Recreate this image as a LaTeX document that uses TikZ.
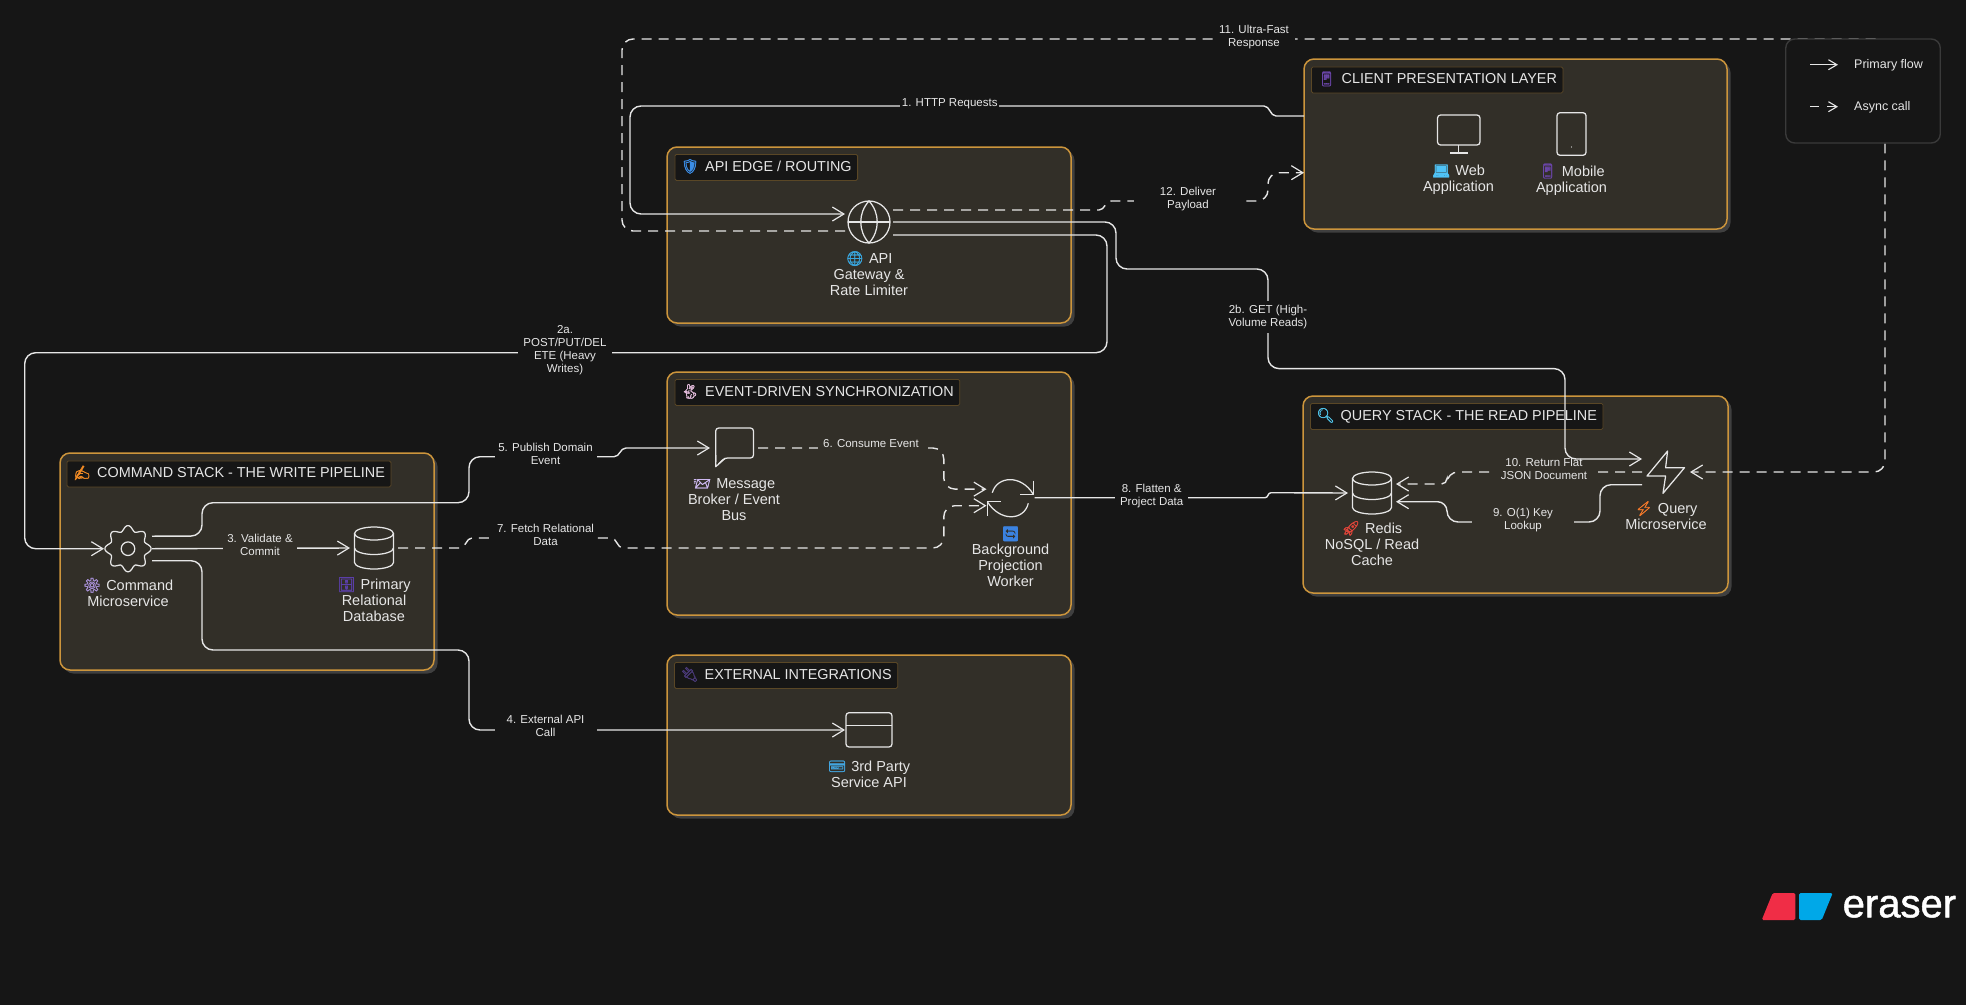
\documentclass[tikz,border=0pt]{standalone}
\usepackage{fontspec}
\setmainfont{Liberation Sans}
\newfontfamily\emojifont[FakeBold=1.5]{Noto Emoji}
\newfontfamily\logofont[FakeBold=1.2]{Liberation Sans}
\usetikzlibrary{positioning,shadows,arrows.meta,shapes.geometric}

\definecolor{bgc}{HTML}{161616}
\definecolor{panelc}{HTML}{322F28}
\definecolor{edgec}{HTML}{CC953C}
\definecolor{titlec}{HTML}{5A4726}
\definecolor{shadowc}{HTML}{3F3F3F}
\definecolor{linec}{HTML}{E6E6E6}
\definecolor{legendc}{HTML}{3A3A3A}

\newcommand{\emo}[2]{{\emojifont\color[HTML]{#1}#2}}

\tikzstyle{panel} = [rectangle,rounded corners=10pt,draw=edgec,line width=1.5pt,fill=panelc,outer sep=0pt,drop shadow={shadow xshift=3.5pt,shadow yshift=-3.5pt,fill=shadowc,opacity=1}]
\tikzstyle{heading} = [rectangle,rounded corners=1.5pt,draw=titlec,line width=0.8pt,fill=bgc,anchor=north west,minimum height=26pt,inner xsep=6pt,inner ysep=0pt,text height=11pt,text depth=3.2pt,text=linec,font=\fontsize{14.4}{16}\selectfont]
\tikzstyle{iconbox} = [rectangle,minimum size=48pt,inner sep=0pt,outer sep=0pt]
\tikzstyle{glyph} = [line width=1.25pt,draw=linec,line join=round]
\tikzstyle{iconlabel} = [align=center,inner sep=0pt,text=linec,font=\fontsize{14.5}{16}\selectfont]
\tikzstyle{edgelabel} = [align=center,inner xsep=0pt,inner ysep=1.5pt,fill=bgc,text=linec,font=\fontsize{11.5}{13}\selectfont]
\tikzstyle{flow} = [line width=1.4pt,draw=linec,rounded corners=11pt,-{Straight Barb[length=11.5pt,width=14pt,line width=1.2pt]}]
\tikzstyle{async} = [flow,dash pattern=on 10pt off 7pt]
\tikzstyle{legendtext} = [anchor=west,inner sep=0pt,text=linec,font=\fontsize{12.5}{14}\selectfont]

\begin{document}
\begin{tikzpicture}[x=1pt,y=-1pt]

\fill [bgc] (0,0) rectangle (1966,1005);
\useasboundingbox (0,0) rectangle (1966,1005);

% panels
\node (api) [panel,minimum width=404pt,minimum height=176pt] at (869,235) {};
\node (client) [panel,minimum width=423pt,minimum height=170pt] at (1515.5,144) {};
\node (cmdp) [panel,minimum width=374pt,minimum height=217pt] at (247,561.5) {};
\node (evt) [panel,minimum width=404pt,minimum height=243pt] at (869,493.5) {};
\node (qrp) [panel,minimum width=425pt,minimum height=197pt] at (1515.5,494.5) {};
\node (ext) [panel,minimum width=404pt,minimum height=160pt] at (869,735) {};

\node (tapi) [heading] at ([xshift=7.5pt,yshift=-7pt]api.north west) {\emo{3B8EE8}{🛡}\hspace{6pt}API EDGE / ROUTING};
\node (tclient) [heading] at ([xshift=7pt,yshift=-7.5pt]client.north west) {\emo{6A45A8}{📱}\hspace{6pt}CLIENT PRESENTATION LAYER};
\node (tcmd) [heading] at ([xshift=6.5pt,yshift=-7.5pt]cmdp.north west) {\emo{F08A24}{✍}\hspace{6pt}COMMAND STACK - THE WRITE PIPELINE};
\node (tevt) [heading] at ([xshift=7.5pt,yshift=-7pt]evt.north west) {\emo{E4BCDC}{🐇}\hspace{6pt}EVENT-DRIVEN SYNCHRONIZATION};
\node (tqr) [heading] at ([xshift=7pt,yshift=-7pt]qrp.north west) {\emo{4FC3E8}{🔍}\hspace{6pt}QUERY STACK - THE READ PIPELINE};
\node (text) [heading] at ([xshift=7pt,yshift=-7pt]ext.north west) {\emo{4A3A78}{🔌}\hspace{6pt}EXTERNAL INTEGRATIONS};

% icons
\node (web) [iconbox] at (1458.5,134) {};
\node (mob) [iconbox] at (1571.5,134) {};
\node (gate) [iconbox] at (869,222) {};
\node (cmd) [iconbox] at (128,548.7) {};
\node (db) [iconbox] at (374,548) {};
\node (bus) [iconbox] at (734,448) {};
\node (work) [iconbox] at (1010.5,497.7) {};
\node (cache) [iconbox] at (1372,493) {};
\node (qry) [iconbox] at (1666,472) {};
\node (card) [iconbox] at (869,730) {};

\draw [glyph,rounded corners=3pt] (1437.5,115) rectangle (1480,145);
\draw [glyph] (1458.7,145) -- (1458.7,153);
\draw [glyph] (1450,153) -- (1467.5,153);
\draw [glyph,rounded corners=3pt] (1557,112.7) rectangle (1586,155.3);
\fill [linec] (1571.5,147) circle (0.6pt);

\draw [glyph] (gate) circle (21pt);
\draw [glyph,shift={(gate)}] (0,-21) .. controls (-11,-9) and (-11,9) .. (0,21) .. controls (11,9) and (11,-9) .. cycle;
\draw [glyph] (gate.center) ++(-21pt,0pt) -- ++(42pt,0pt);

\draw [glyph,shift={(cmd)}] plot [domain=0:357,samples=120] (\x:{20.5+2.6*cos(8*\x)}) -- cycle;
\draw [glyph] (cmd) circle (6.8pt);

\foreach \n in {db,cache} {
  \draw [glyph,shift={(\n)}] (0,-14.5) ellipse [x radius=19.5pt,y radius=6.5pt];
  \draw [glyph,shift={(\n)}] (-19.5,-14.5) -- (-19.5,14.5) arc [start angle=180,end angle=360,x radius=19.5pt,y radius=6.5pt] -- (19.5,-14.5);
  \draw [glyph,shift={(\n)}] (-19.5,0) arc [start angle=180,end angle=360,x radius=19.5pt,y radius=6.5pt];
}

\draw [glyph,rounded corners=3pt] (715.7,466.7) -- (715.7,428) -- (753.5,428) -- (753.5,458) -- (724.5,458) -- cycle;
\fill [panelc] (713.5,462) rectangle (718,468.5);
\draw [glyph] (715.7,455) -- (715.7,466.7) -- (725.5,458);

\draw [glyph] (992.3,492.7) .. controls (997,476) and (1021,474) .. (1033.3,494.3);
\draw [glyph] (1033.3,480.7) -- (1033.3,494.3) -- (1020,494.3);
\draw [glyph] (1028.3,503.3) .. controls (1024,521) and (1000,522) .. (987.3,501.7);
\draw [glyph] (987.3,515.7) -- (987.3,501.7) -- (1001,501.7);

\draw [glyph] (1667.6,451) -- (1647,476) -- (1665.6,476) -- (1663,493.3) -- (1684.5,467.7) -- (1665.6,467.7) -- cycle;

\draw [glyph,rounded corners=3pt] (846,712.7) rectangle (892,747);
\draw [glyph] (846,725.7) -- (892,725.7);

% icon captions
\node (lweb) [iconlabel,below=6.5pt of web] {\emo{4FC3F7}{💻}\hspace{5pt}Web\\Application};
\node (lmob) [iconlabel,below=5.5pt of mob] {\emo{6A45A8}{📱}\hspace{5pt}Mobile\\Application};
\node (lgate) [iconlabel,below=5pt of gate] {\emo{39A7E0}{🌐}\hspace{5pt}API\\Gateway \&\\Rate Limiter};
\node (lcmd) [iconlabel,below=5pt of cmd] {\emo{A78FD6}{⚙}\hspace{5pt}Command\\Microservice};
\node (ldb) [iconlabel,below=5pt of db] {\emo{5B3FA8}{🗄}\hspace{5pt}Primary\\Relational\\Database};
\node (lbus) [iconlabel,below=6.5pt of bus] {\emo{CDB8F0}{📨}\hspace{5pt}Message\\Broker / Event\\Bus};
\node (lwork) [iconlabel,below=4.5pt of work] {\emo{3B82E0}{🔄}\\Background\\Projection\\Worker};
\node (lcache) [iconlabel,below=4pt of cache] {\emo{E0453A}{🚀}\hspace{5pt}Redis\\NoSQL / Read\\Cache};
\node (lqry) [iconlabel,below=5pt of qry] {\emo{F5792A}{⚡}\hspace{5pt}Query\\Microservice};
\node (lcard) [iconlabel,below=6.5pt of card] {\emo{42A5E0}{💳}\hspace{5pt}3rd Party\\Service API};

% connectors
\draw [flow] ([yshift=28pt]client.west) [sharp corners] -- (1276,116) .. controls (1270,116) and (1270,106) .. (1264,106) -- (1250,106) [rounded corners=11pt] -- (630,106) -- (630,214) -- ([yshift=8pt]gate.west);
\draw [flow] ([yshift=-13pt]gate.east) -- (1107,235) -- (1107,352.7) -- (24.7,352.7) -- (24.7,548.7) -- (cmd.west);
\draw [flow] (cmd.east) -- (db.west);
\draw [flow] ([yshift=-12pt]cmd.east) -- (202,560.7) -- (202,650) -- (469,650) -- (469,730) -- (card.west);
\draw [flow] ([yshift=12.5pt]cmd.east) -- (202,536) -- (202,502.7) -- (469,502.7) -- (469,456.7) -- (600,456.7) [sharp corners] -- (614,456.7) .. controls (620,456.7) and (620,448) .. (626,448) -- (bus.west);
\draw [async] (bus.east) -- (943.8,448) -- (943.8,489) -- ([yshift=8.5pt]work.west);
\draw [async] (db.east) [sharp corners] -- (460,548) .. controls (466,548) and (466,538) .. (472,538) -- (611,538) .. controls (617,538) and (617,548) .. (623,548) -- (640,548) [rounded corners=11pt] -- (943.8,548) -- (943.8,505.7) -- ([yshift=-8pt]work.west);
\draw [flow] (work.east) [sharp corners] -- (1265,497.7) .. controls (1268.5,497.7) and (1267.5,492.7) .. (1271,492.7) -- (cache.west);
\draw [flow] ([yshift=-12.7pt]qry.west) -- (1600,484.7) -- (1600,522) -- (1447,522) [rounded corners=9.5pt] -- (1447,501.7) -- ([yshift=-8.7pt]cache.east);
\draw [async] (qry.west) -- (1447,472) [rounded corners=5.5pt] -- (1447,484) -- ([yshift=9pt]cache.east);
\draw [async] ([yshift=-9pt]gate.west) -- (622,231) -- (622,39) -- (1885,39) -- (1885,472) -- (qry.east);
\draw [async] ([yshift=12pt]gate.east) [sharp corners] -- (1099,210) .. controls (1105,210) and (1105,201) .. (1111,201) -- (1125,201) [rounded corners=11pt] -- (1268,201) -- (1268,172.7) -- ([yshift=-28.7pt]client.west);

% connector labels
\node (lab1) [edgelabel,minimum width=99pt] at (949.7,104) {1. HTTP Requests};
\node (lab2a) [edgelabel,minimum width=94pt] at (565,350) {2a.\\POST/PUT/DEL\\ETE (Heavy\\Writes)};
\node (lab3) [edgelabel,minimum width=74pt,fill=panelc] at (260,544.8) {3. Validate \&\\Commit};
\node (lab4) [edgelabel,minimum width=102pt] at (545.5,726) {4. External API\\Call};
\node (lab5) [edgelabel,minimum width=102pt] at (545.5,454) {5. Publish Domain\\Event};
\node (lab6) [edgelabel,minimum width=107pt,fill=panelc] at (871,443.7) {6. Consume Event};
\node (lab7) [edgelabel,minimum width=102pt] at (545.5,535) {7. Fetch Relational\\Data};
\node (lab8) [edgelabel,minimum width=73pt] at (1151.7,495.8) {8. Flatten \&\\Project Data};
\node (lab9) [edgelabel,minimum width=102pt,fill=panelc] at (1523,520) {9. O(1) Key\\Lookup};
\node (lab10) [edgelabel,minimum width=96pt,fill=panelc] at (1544,469.3) {10. Return Flat\\JSON Document};
\node (lab11) [edgelabel,minimum width=82pt] at (1254,37) {11. Ultra-Fast\\Response};
\node (lab12) [edgelabel,minimum width=109pt] at (1188,199) {12. Deliver\\Payload};

\draw [flow] (gate.east) -- (1116,222) -- (1116,269) -- (1268,269) -- (1268,368.6) -- (1565,368.6) -- (1565,459) -- ([yshift=13pt]qry.west);
\node (lab2b) [edgelabel,minimum width=84pt,inner ysep=4pt] at (1268,316.7) {2b. GET (High-\\Volume Reads)};

% legend
\node (legend) [rectangle,rounded corners=9pt,draw=legendc,line width=1.4pt,fill=bgc,minimum width=154.5pt,minimum height=104pt] at (1863,91) {};
\coordinate (la) at (1810,64.7);
\coordinate (lb) at (1838,64.7);
\coordinate (lc) at (1810,106.7);
\coordinate (ld) at (1838,106.7);
\draw [line width=1.4pt,draw=linec,-{Straight Barb[length=8.5pt,width=10pt,line width=1.1pt]}] (la) -- (lb);
\draw [line width=1.4pt,draw=linec,dash pattern=on 9pt off 8pt,-{Straight Barb[length=8.5pt,width=10pt,line width=1.1pt]}] (lc) -- (ld);
\node (lega) [legendtext] at (1854,64.8) {Primary flow};
\node (legb) [legendtext] at (1854,107.5) {Async call};

% logo
\fill [rounded corners=1.5pt,fill={rgb,255:red,240;green,45;blue,70}] (1772.7,893) -- (1795.3,893) -- (1795.3,920) -- (1761.7,920) -- cycle;
\fill [rounded corners=1.5pt,fill={rgb,255:red,0;green,168;blue,232}] (1799,893) -- (1832.7,893) -- (1821.7,920) -- (1799,920) -- cycle;
\node (logo) [anchor=base west,inner sep=0pt,text=white,font=\logofont\fontsize{40}{44}\selectfont] at (1842.5,917.3) {eraser};

\end{tikzpicture}
\end{document}
